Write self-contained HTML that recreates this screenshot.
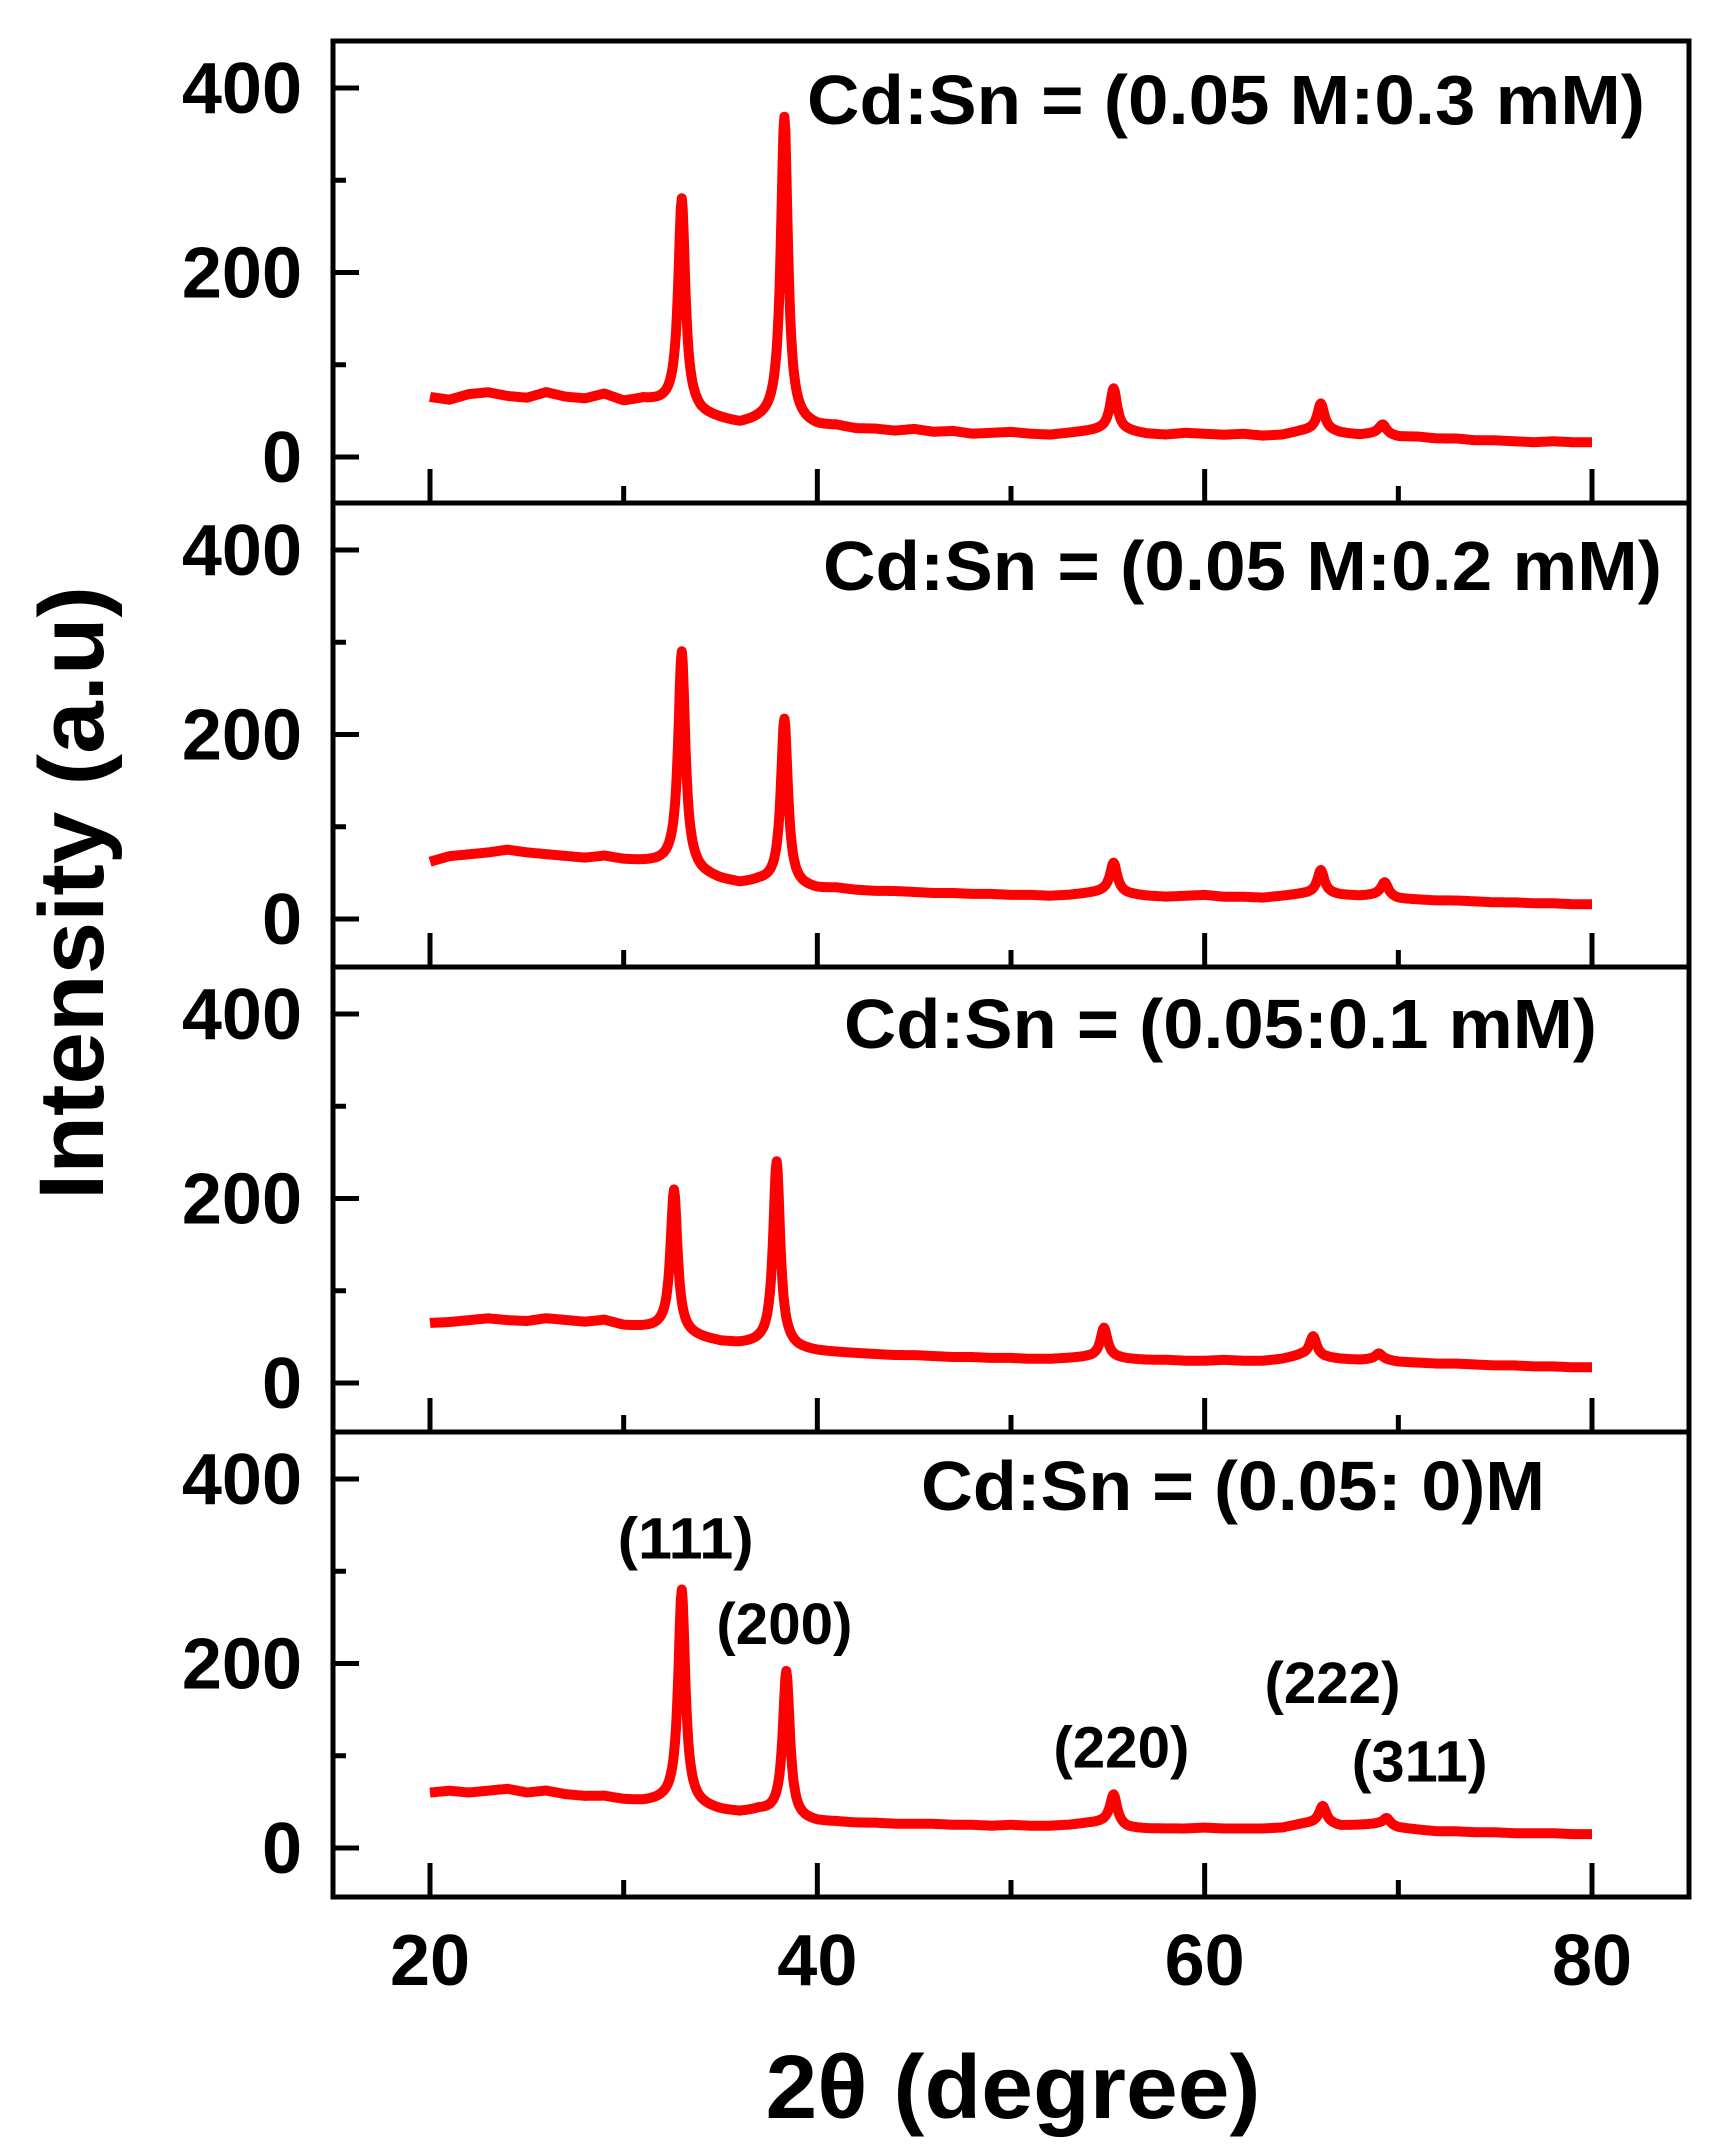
<!DOCTYPE html>
<html><head><meta charset="utf-8"><style>
html,body{margin:0;padding:0;background:#fff}
svg{display:block}
text{font-family:"Liberation Sans",Arial,sans-serif;font-weight:bold;fill:#000}
</style></head><body>
<svg id="chart" width="1717" height="2153" viewBox="0 0 1717 2153" xmlns="http://www.w3.org/2000/svg">
<g id="frames"></g>
<g id="marks"></g>
<g id="labels"></g>
</svg>
<script>
// ---- data ----
const baselineX = [20,21,22,23,24,25,26,27,28,29,30,31,32,33,34,35,36,37,38,39,40,41,42,43,44,45,46,47,48,49,50,51,52,53,54,55,56,57,58,59,60,61,62,63,64,65,66,67,68,69,70,71,72,73,74,75,76,77,78,79,80];
const base1 = [65,62,68,70,66,64,70,65,63,68,60,62,58,55,45,40,35,38,40,35,32,33,30,30,28,30,27,28,25,26,27,25,24,26,28,30,28,25,24,26,25,24,25,23,24,28,30,26,24,26,22,22,20,20,18,18,17,16,17,16,16];
const base2 = [62,68,70,72,75,72,70,68,66,68,64,62,60,58,48,42,38,40,38,34,32,33,31,30,30,29,28,28,27,27,26,26,25,26,28,30,27,25,24,25,26,24,24,23,25,27,28,26,25,26,22,21,20,20,19,18,18,17,17,16,16];
const base3 = [65,66,68,70,68,67,70,68,66,68,62,60,58,52,48,44,42,42,40,36,34,33,32,31,30,30,29,28,28,27,27,26,26,27,28,28,26,25,25,24,24,25,24,24,26,30,28,26,25,26,23,22,21,21,20,19,19,18,18,17,17];
const base4 = [60,62,60,62,64,60,62,58,56,56,52,50,50,48,44,40,38,40,36,30,28,28,27,27,26,26,26,25,25,24,25,24,24,25,27,28,22,21,21,21,22,21,21,21,22,26,28,24,25,26,22,20,18,18,17,17,16,16,16,15,15];
const bases = [base1, base2, base3, base4];
const peakPos1 = [33.0, 38.3, 55.3, 66.0, 69.2];
const peakHt1  = [225, 330, 45, 28, 10];
const peakPos2 = [33.0, 38.3, 55.3, 66.0, 69.3];
const peakHt2  = [232, 180, 32, 25, 15];
const peakPos3 = [32.6, 37.9, 54.8, 65.6, 69.0];
const peakHt3  = [155, 200, 32, 22, 6];
const peakPos4 = [33.0, 38.4, 55.3, 66.1, 69.4];
const peakHt4  = [232, 158, 32, 18, 8];
const peakPos = [peakPos1, peakPos2, peakPos3, peakPos4];
const peakHt = [peakHt1, peakHt2, peakHt3, peakHt4];
const peakWidth = 0.22;
const xTicks = [20, 40, 60, 80];
const xMinor = [30, 50, 70];
const yTicks = [0, 200, 400];
const yMinor = [100, 300];
const panelTitles = ["Cd:Sn = (0.05 M:0.3 mM)","Cd:Sn = (0.05 M:0.2 mM)","Cd:Sn = (0.05:0.1 mM)","Cd:Sn = (0.05: 0)M"];
const hklLabels = ["(111)","(200)","(220)","(222)","(311)"];
const hklX = [33.2, 38.3, 55.7, 66.6, 71.1];
const hklY = [314, 221, 87, 157, 72];

// ---- layout ----
const L=333, R=1689, T=41;
const panelTops=[41,503,967,1432], B=1897;
const X0=430, X1=1592;
const zeroOff=416, pxPerUnit=369/400;
const xs = d => X0 + (d-20)*(X1-X0)/60;
const ys = (p,v) => panelTops[p] + zeroOff - v*pxPerUnit;
const NS="http://www.w3.org/2000/svg";
function mk(tag, parent){const e=document.createElementNS(NS,tag);document.getElementById(parent).appendChild(e);return e;}

const fr=mk('rect','frames');
fr.setAttribute('x',L);fr.setAttribute('y',T);fr.setAttribute('width',R-L);fr.setAttribute('height',B-T);
fr.setAttribute('fill','none');fr.setAttribute('stroke','#000');fr.setAttribute('stroke-width','5');



function baseAt(b,d){
  const i=Math.min(59,Math.floor(d-20));const t=d-20-i;
  return b[i]*(1-t)+b[i+1]*t;
}
for(let p=0;p<4;p++){
  if(p>0){
    const s=mk('line','frames');
    s.setAttribute('x1',L);s.setAttribute('x2',R);s.setAttribute('y1',panelTops[p]);s.setAttribute('y2',panelTops[p]);
    s.setAttribute('stroke','#000');s.setAttribute('stroke-width','5');
    
    
  }
  const bottom = p<3?panelTops[p+1]:B;
  yTicks.forEach(v=>{
    const y=ys(p,v);
    const l=mk('line','frames');
    l.setAttribute('x1',L);l.setAttribute('x2',L+26);l.setAttribute('y1',y);l.setAttribute('y2',y);
    l.setAttribute('stroke','#000');l.setAttribute('stroke-width','5');
    
    
    const t=mk('text','labels');
    t.setAttribute('x',302);t.setAttribute('y',y+25);t.setAttribute('text-anchor','end');t.setAttribute('font-size','72');
    t.textContent=v;
    
    
  });
  yMinor.forEach(v=>{
    const y=ys(p,v);
    const l=mk('line','frames');
    l.setAttribute('x1',L);l.setAttribute('x2',L+13);l.setAttribute('y1',y);l.setAttribute('y2',y);
    l.setAttribute('stroke','#000');l.setAttribute('stroke-width','5');
    
    
  });
  xTicks.forEach(d=>{
    const l=mk('line','frames');
    l.setAttribute('x1',xs(d));l.setAttribute('x2',xs(d));l.setAttribute('y1',bottom);l.setAttribute('y2',bottom-34);
    l.setAttribute('stroke','#000');l.setAttribute('stroke-width','5');
    
    
  });
  xMinor.forEach(d=>{
    const l=mk('line','frames');
    l.setAttribute('x1',xs(d));l.setAttribute('x2',xs(d));l.setAttribute('y1',bottom);l.setAttribute('y2',bottom-17);
    l.setAttribute('stroke','#000');l.setAttribute('stroke-width','5');
    
    
  });
  let pts=[];
  for(let k=0;k<=1200;k++){
    const d=20+k*0.05;
    let v=baseAt(bases[p],d);
    for(let j=0;j<peakPos[p].length;j++){
      const z=(d-peakPos[p][j])/peakWidth; v+=peakHt[p][j]/(1+z*z);
    }
    pts.push(xs(d).toFixed(1)+','+ys(p,v).toFixed(1));
  }
  const pl=mk('polyline','marks');
  pl.setAttribute('points',pts.join(' '));
  pl.setAttribute('fill','none');pl.setAttribute('stroke','#ff0000');pl.setAttribute('stroke-width','10');pl.setAttribute('stroke-linejoin','round');
  
  
}
const titleX=[807,823,844,921], titleW=[838,839,753,624], titleY=[124,590,1048,1510];
panelTitles.forEach((s,i)=>{
  const t=mk('text','labels');
  t.setAttribute('x',titleX[i]);t.setAttribute('y',titleY[i]);t.setAttribute('font-size','70');
  t.setAttribute('textLength',titleW[i]);t.setAttribute('lengthAdjust','spacingAndGlyphs');
  t.textContent=s;
  
  
});
hklLabels.forEach((s,i)=>{
  const t=mk('text','labels');
  t.setAttribute('x',xs(hklX[i]));t.setAttribute('y',ys(3,hklY[i]));t.setAttribute('font-size','58');
  t.setAttribute('text-anchor','middle');t.setAttribute('textLength','136');t.setAttribute('lengthAdjust','spacingAndGlyphs');
  t.textContent=s;
  
  
});
xTicks.forEach(d=>{
  const t=mk('text','labels');
  t.setAttribute('x',xs(d));t.setAttribute('y',1985);t.setAttribute('font-size','72');t.setAttribute('text-anchor','middle');
  t.textContent=d;
  
  
});
const xt=mk('text','labels');
xt.setAttribute('x',1013);xt.setAttribute('y',2118);xt.setAttribute('font-size','90');xt.setAttribute('text-anchor','middle');
xt.setAttribute('textLength','495');xt.setAttribute('lengthAdjust','spacingAndGlyphs');
xt.textContent='2θ (degree)';


const yt=mk('text','labels');
yt.setAttribute('x',0);yt.setAttribute('y',0);yt.setAttribute('font-size','92');yt.setAttribute('text-anchor','middle');
yt.setAttribute('transform','translate(103,893) rotate(-90)');
yt.setAttribute('textLength','614');yt.setAttribute('lengthAdjust','spacingAndGlyphs');
yt.textContent='Intensity (a.u)';


</script>
</body></html>
